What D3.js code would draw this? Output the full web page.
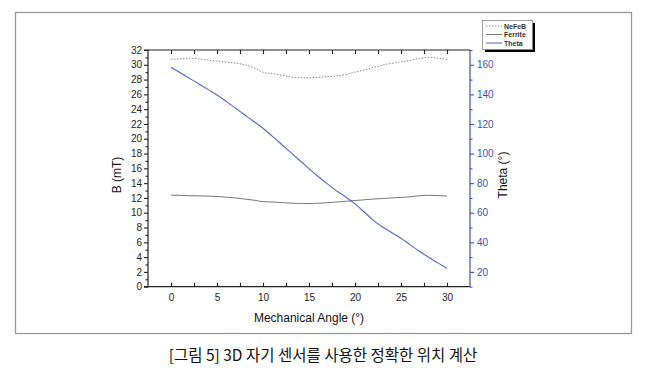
<!DOCTYPE html>
<html><head><meta charset="utf-8">
<script src="https://cdn.jsdelivr.net/npm/d3@7"></script>
<style>body{margin:0;background:#fff}svg{display:block}</style>
</head><body>
<svg id="c" width="647" height="380"></svg>
<script>
const angles = d3.range(0, 31);
const nefeb = [30.75,30.8,30.88,30.8,30.65,30.5,30.35,30.25,30.0,29.6,29.0,28.8,28.6,28.35,28.25,28.25,28.3,28.4,28.5,28.7,29.0,29.3,29.65,29.95,30.2,30.4,30.6,30.85,31.0,30.9,30.7];
const ferrite = [12.38,12.35,12.3,12.28,12.25,12.2,12.1,12.0,11.85,11.7,11.5,11.45,11.38,11.3,11.26,11.25,11.28,11.35,11.45,11.55,11.65,11.75,11.85,11.92,12.0,12.07,12.15,12.3,12.36,12.32,12.25];
const theta = [158.3,154.6,150.9,147.2,143.4,139.6,135.3,130.8,126.2,121.7,117.1,111.8,106.3,100.8,95.3,89.8,84.5,79.5,74.8,70.6,66.0,60.5,54.8,50.4,46.5,42.7,38.3,34.0,29.9,26.1,22.4];
const xTicks = [0,5,10,15,20,25,30];
const yLeftTicks = d3.range(0, 33, 2);
const yRightTicks = [20,40,60,80,100,120,140,160];
const seriesNames = ["NeFeB","Ferrite","Theta"];

const svg = d3.select("#c");
const font = "Arial, 'Liberation Sans', sans-serif";
const blue = "#3f4fb5";
const L = 148, R = 470, T = 50, B = 286.7;

// outer frame
svg.append("rect").attr("x",15.5).attr("y",12.5).attr("width",616).attr("height",321)
  .attr("fill","none").attr("stroke","#999").attr("stroke-width",1.3);

const x = d3.scaleLinear().domain([-2.5,32.5]).range([L,R]);
const yL = d3.scaleLinear().domain([0,32]).range([B,T]);
const yR = d3.scaleLinear().domain([10,170]).range([B,T]);

// Left axis
const gL = svg.append("g").attr("transform",`translate(${L},0)`)
  .call(d3.axisLeft(yL).tickValues(yLeftTicks).tickSize(4).tickPadding(2));
svg.append("g").attr("transform",`translate(${L},0)`)
  .call(d3.axisLeft(yL).tickValues(d3.range(1,32,2)).tickSize(2.5).tickFormat(""))
  .select(".domain").remove();
// Right axis
const gR = svg.append("g").attr("transform",`translate(${R},0)`)
  .call(d3.axisRight(yR).tickValues(yRightTicks).tickSize(4).tickPadding(3));
const gR2 = svg.append("g").attr("transform",`translate(${R},0)`)
  .call(d3.axisRight(yR).tickValues(d3.range(10,171,20)).tickSize(2.5).tickFormat(""));
gR2.select(".domain").remove();
// Bottom axis (ticks inward)
const gB = svg.append("g").attr("transform",`translate(0,${B})`)
  .call(d3.axisBottom(x).tickValues(xTicks).tickSize(0).tickPadding(7));
svg.append("g").attr("transform",`translate(0,${B})`)
  .call(d3.axisTop(x).tickValues(d3.range(0,31,2.5)).tickSize(4).tickFormat(""))
  .select(".domain").remove();
// Top axis (ticks inward)
const gT = svg.append("g").attr("transform",`translate(0,${T})`)
  .call(d3.axisBottom(x).tickValues(d3.range(0,31,2.5)).tickSize(4).tickFormat(""));

svg.selectAll(".tick text").attr("font-family",font).attr("font-size",10).attr("fill","#222");
svg.selectAll("path.domain").attr("stroke","#222").attr("stroke-width",1.2);
svg.selectAll(".tick line").attr("stroke","#222").attr("stroke-width",1.1);
gT.select(".domain").attr("d",`M${L},0H${R}`);
gB.select(".domain").attr("d",`M${L},0H${R}`);
gL.select(".domain").attr("d",`M-4,${B}H0V${T}H-4`);
[gR,gR2].forEach(g=>{
  g.selectAll(".tick line").attr("stroke",blue);
  g.selectAll(".tick text").attr("fill",blue);
  g.selectAll("path.domain").attr("stroke",blue);
});
gR.select(".domain").attr("d",`M0,${B}V${T}`);

// Lines
const lineL = d3.line().x((d,i)=>x(angles[i])).y(d=>yL(d)).curve(d3.curveMonotoneX);
const lineR = d3.line().x((d,i)=>x(angles[i])).y(d=>yR(d)).curve(d3.curveMonotoneX);
svg.append("path").datum(nefeb).attr("d",lineL).attr("fill","none")
  .attr("stroke","#888").attr("stroke-width",1).attr("stroke-dasharray","1.5,1.5");
svg.append("path").datum(ferrite).attr("d",lineL).attr("fill","none")
  .attr("stroke","#777").attr("stroke-width",1);
svg.append("path").datum(theta).attr("d",lineR).attr("fill","none")
  .attr("stroke","#5565c4").attr("stroke-width",1.1);

// Axis titles
svg.append("text").attr("transform",`translate(121,175) rotate(-90)`).attr("text-anchor","middle")
  .attr("font-family",font).attr("font-size",12).attr("fill","#111").text("B (mT)");
svg.append("text").attr("transform",`translate(507,175) rotate(-90)`).attr("text-anchor","middle")
  .attr("font-family",font).attr("font-size",12).attr("fill","#111").text("Theta (°)");
svg.append("text").attr("x",309).attr("y",322).attr("text-anchor","middle")
  .attr("font-family",font).attr("font-size",12).attr("fill","#111").text("Mechanical Angle (°)");

// Legend
const lg = svg.append("g").attr("transform","translate(482,20)");
lg.append("rect").attr("x",3).attr("y",3).attr("width",50).attr("height",29).attr("fill","#000");
lg.append("rect").attr("x",0.5).attr("y",0.5).attr("width",50).attr("height",29).attr("fill","#fff").attr("stroke","#888").attr("stroke-width",0.8);
const styles = [{c:"#888",d:"1.5,1.5",w:1},{c:"#777",d:null,w:1},{c:"#aab2e0",d:null,w:2}];
seriesNames.forEach((n,i)=>{
  const yy = 6+i*8.5;
  lg.append("line").attr("x1",4).attr("x2",20).attr("y1",yy).attr("y2",yy)
    .attr("stroke",styles[i].c).attr("stroke-width",styles[i].w).attr("stroke-dasharray",styles[i].d);
  lg.append("text").attr("x",22).attr("y",yy+2.5).attr("font-family",font).attr("font-size",7)
    .attr("font-weight","bold").attr("fill","#333").text(n);
});

// Caption
svg.append("text").attr("x",323).attr("y",361).attr("text-anchor","middle")
  .attr("font-family","'Noto Sans CJK KR', sans-serif").attr("font-size",15.5).attr("fill","#111")
  .text("[그림 5] 3D 자기 센서를 사용한 정확한 위치 계산");
</script>
</body></html>
